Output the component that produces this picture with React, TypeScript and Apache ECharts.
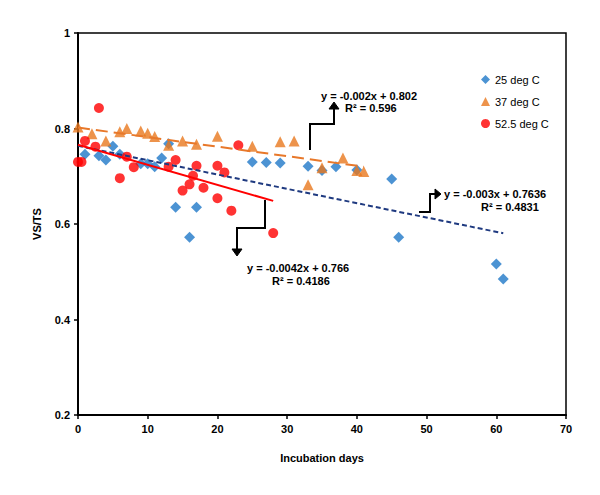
import React, { useEffect, useRef } from "react";
import * as echarts from "echarts";

const s25x = [1, 3, 4, 5, 6, 9, 10, 11, 12, 13, 14, 17, 16, 25, 27, 29, 33, 35, 37, 40, 45, 46, 60, 61];
const s25y = [0.746, 0.743, 0.734, 0.763, 0.746, 0.726, 0.726, 0.72, 0.738, 0.768, 0.635, 0.635, 0.572, 0.73, 0.729, 0.728, 0.721, 0.712, 0.72, 0.713, 0.694, 0.572, 0.516, 0.485];

const s37x = [0, 2, 4, 6, 7, 9, 10, 11, 13, 15, 17, 20, 25, 29, 31, 33, 35, 38, 40, 41];
const s37y = [0.803, 0.789, 0.774, 0.793, 0.8, 0.795, 0.79, 0.783, 0.765, 0.774, 0.767, 0.784, 0.763, 0.772, 0.774, 0.682, 0.718, 0.738, 0.712, 0.71];

const s52x = [0, 0.5, 1, 2.5, 3, 6, 7, 8, 13, 14, 15, 16, 16.5, 17, 18, 20, 20, 21, 22, 23, 28];
const s52y = [0.73, 0.73, 0.774, 0.762, 0.843, 0.696, 0.741, 0.719, 0.72, 0.734, 0.67, 0.683, 0.701, 0.722, 0.676, 0.722, 0.654, 0.708, 0.628, 0.765, 0.581];

const seriesNames = ["25 deg C", "37 deg C", "52.5 deg C"];

// trendline equations (slope, intercept, x range)
const fit25 = { m: -0.003, b: 0.7636, x0: 0, x1: 61 };
const fit37 = { m: -0.002, b: 0.802, x0: 0, x1: 41 };
const fit52 = { m: -0.0042, b: 0.766, x0: 0, x1: 28 };

const zip = (xs: number[], ys: number[]) => xs.map((x, i) => [x, ys[i]]);
const fitLine = (f: { m: number; b: number; x0: number; x1: number }) => [
  [f.x0, f.m * f.x0 + f.b],
  [f.x1, f.m * f.x1 + f.b],
];

const FONT = "Liberation Sans, Arial, sans-serif";

export default function App() {
  const ref = useRef<HTMLDivElement>(null);
  useEffect(() => {
    if (!ref.current) return;
    const chart = echarts.init(ref.current, undefined, { renderer: "svg" });
    const lbl = (x: number, y: number, text: string, align = "left") => ({
      type: "text",
      x,
      y,
      style: { text, fill: "#000", font: `bold 11px ${FONT}`, textAlign: align },
    });
    const conn = (pts: number[][]) => ({
      type: "polyline",
      shape: { points: pts },
      style: { stroke: "#000", lineWidth: 2, fill: "none" },
    });
    const head = (pts: number[][]) => ({
      type: "polygon",
      shape: { points: pts },
      style: { fill: "#000", stroke: "#000", lineWidth: 1 },
    });
    chart.setOption({
      animation: false,
      backgroundColor: "#fff",
      textStyle: { fontFamily: FONT },
      grid: {
        left: 78,
        right: 34,
        top: 33,
        bottom: 80,
        show: true,
        borderColor: "#000",
        borderWidth: 1.5,
        backgroundColor: "transparent",
      },
      legend: {
        data: seriesNames,
        orient: "vertical",
        left: 476,
        top: 69,
        itemGap: 11,
        itemWidth: 9,
        itemHeight: 9,
        textStyle: { fontFamily: FONT, fontSize: 11, color: "#000" },
      },
      xAxis: {
        type: "value",
        min: 0,
        max: 70,
        interval: 10,
        name: "Incubation days",
        nameLocation: "middle",
        nameGap: 37,
        nameTextStyle: { fontFamily: FONT, fontWeight: "bold", fontSize: 11, color: "#000" },
        axisLine: { lineStyle: { color: "#000", width: 2 } },
        axisTick: { show: true, length: 4, lineStyle: { color: "#000", width: 1.5 } },
        axisLabel: { color: "#000", fontWeight: "bold", fontSize: 11, fontFamily: FONT, margin: 8 },
        splitLine: { show: false },
      },
      yAxis: {
        type: "value",
        min: 0.2,
        max: 1,
        interval: 0.2,
        name: "VS/TS",
        nameLocation: "middle",
        nameGap: 36,
        nameRotate: 90,
        nameTextStyle: { fontFamily: FONT, fontWeight: "bold", fontSize: 11, color: "#000" },
        axisLine: { show: true, lineStyle: { color: "#000", width: 2 } },
        axisTick: { show: true, length: 4, lineStyle: { color: "#000", width: 1.5 } },
        axisLabel: {
          color: "#000",
          fontWeight: "bold",
          fontSize: 11,
          fontFamily: FONT,
          margin: 8,
          formatter: (v: number) => (Math.abs(v - 1) < 1e-9 ? "1" : v.toFixed(1)),
        },
        splitLine: { show: false },
      },
      series: [
        {
          name: seriesNames[0],
          type: "scatter",
          symbol: "diamond",
          symbolSize: 11,
          itemStyle: { color: "#1F78C8" },
          data: zip(s25x, s25y),
          z: 3,
        },
        {
          name: seriesNames[1],
          type: "scatter",
          symbol: "triangle",
          symbolSize: 11,
          itemStyle: { color: "#E8781E" },
          data: zip(s37x, s37y),
          z: 3,
        },
        {
          name: seriesNames[2],
          type: "scatter",
          symbol: "circle",
          symbolSize: 10,
          itemStyle: { color: "#FF0000" },
          data: zip(s52x, s52y),
          z: 3,
        },
        {
          name: "trend25",
          type: "line",
          data: fitLine(fit25),
          symbol: "none",
          lineStyle: { color: "#1F3A80", width: 2, type: [5, 3] },
          z: 4,
        },
        {
          name: "trend37",
          type: "line",
          data: fitLine(fit37),
          symbol: "none",
          lineStyle: { color: "#E8782A", width: 2, type: [12, 6] },
          z: 4,
        },
        {
          name: "trend52",
          type: "line",
          data: fitLine(fit52),
          symbol: "none",
          lineStyle: { color: "#FF0000", width: 2 },
          z: 4,
        },
      ],
      graphic: [
        // 37 deg C annotation
        conn([[310, 150], [310, 124], [334, 124], [334, 108]]),
        head([[329, 109], [339, 109], [334, 102]]),
        lbl(321, 90, "y = -0.002x + 0.802"),
        lbl(345, 102, "R² = 0.596"),
        // 25 deg C annotation
        conn([[419, 212], [430, 212], [430, 194], [435, 194]]),
        head([[435, 189], [435, 199], [441, 194]]),
        lbl(444, 188, "y = -0.003x + 0.7636"),
        lbl(481, 201, "R² = 0.4831"),
        // 52.5 deg C annotation
        conn([[265, 200], [265, 228], [237, 228], [237, 250]]),
        head([[232, 249], [242, 249], [237, 256]]),
        lbl(247, 262, "y = -0.0042x + 0.766"),
        lbl(272, 275, "R² = 0.4186"),
      ],
    });
    return () => chart.dispose();
  }, []);
  return (
    <div
      ref={ref}
      style={{ position: "fixed", left: 0, top: 0, width: 600, height: 495, background: "#fff" }}
    />
  );
}
